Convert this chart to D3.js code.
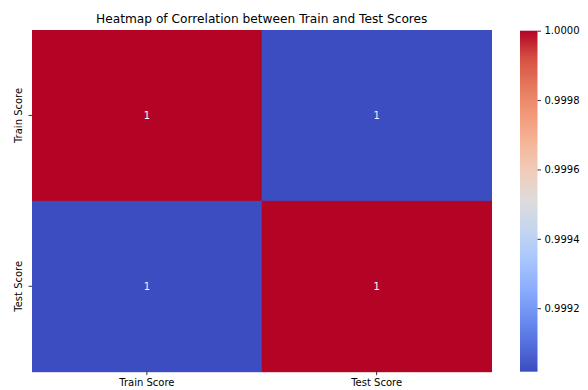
<!DOCTYPE html>
<html><head><meta charset="utf-8">
<script src="https://cdn.jsdelivr.net/npm/d3@7"></script>
<style>body{margin:0;background:#fff}svg{display:block}text{font-family:"DejaVu Sans",sans-serif}</style>
</head><body><svg id="c" width="588" height="390"></svg>
<script>
const rowLabels = ["Train Score", "Test Score"];
const colLabels = ["Train Score", "Test Score"];
const values = [[1.0, 0.99902],[0.99902, 1.0]];
const annotations = [["1","1"],["1","1"]];
const cbarTicks = [0.9992, 0.9994, 0.9996, 0.9998, 1.0];
const cbarDomain = [0.999017, 1.0];
const title = "Heatmap of Correlation between Train and Test Scores";
const coolwarm = ["#3b4cc0","#5470de","#6f92f3","#8db0fe","#aac7fd","#c5d5ef","#dddcdc","#f0cdbb","#f5b79b","#f39a7b","#e67a5e","#d65244","#b40426"];

const svg = d3.select("#c");
const L=32, R=491.5, T=30, B=371.7;
const x = d3.scaleBand().domain(colLabels).range([L,R]);
const y = d3.scaleBand().domain(rowLabels).range([T,B]);
const interp = d3.piecewise(d3.interpolateRgb, coolwarm);
const color = v => interp(Math.max(0,Math.min(1,(v-cbarDomain[0])/(cbarDomain[1]-cbarDomain[0]))));

const cells=[];
rowLabels.forEach((r,i)=>colLabels.forEach((c,j)=>cells.push({r,c,v:values[i][j],a:annotations[i][j]})));
svg.selectAll("rect.cell").data(cells).join("rect").attr("class","cell")
  .attr("x",d=>x(d.c)).attr("y",d=>y(d.r)).attr("width",x.bandwidth()+0.5).attr("height",y.bandwidth()+0.5)
  .attr("fill",d=>color(d.v));
svg.selectAll("text.ann").data(cells).join("text").attr("class","ann")
  .attr("x",d=>x(d.c)+x.bandwidth()/2).attr("y",d=>y(d.r)+y.bandwidth()/2).attr("dy","0.35em")
  .attr("text-anchor","middle").attr("font-size",10).attr("fill",d=>d.v>0.9995?"#ffffff":"#f2f2f2").text(d=>d.a);

const xa = svg.append("g").attr("transform",`translate(0,${B})`).call(d3.axisBottom(x).tickSize(3.5).tickPadding(3.5));
const ya = svg.append("g").attr("transform",`translate(${L},0)`).call(d3.axisLeft(y).tickSize(3.5).tickPadding(3.5));
[xa,ya].forEach(a=>{a.select(".domain").remove();a.selectAll("text").attr("font-size",10).attr("fill","#000").attr("font-family","DejaVu Sans");a.selectAll("line").attr("stroke","#000").attr("stroke-width",0.8);});
ya.selectAll(".tick text").attr("transform","rotate(-90)").attr("text-anchor","middle").attr("x",0).attr("y",-10.5).attr("dy","0");

// colorbar
const cx0=520, cw=17.5;
const cy = d3.scaleLinear().domain(cbarDomain).range([B,T+0.7]);
const defs = svg.append("defs");
const g = defs.append("linearGradient").attr("id","cg").attr("x1",0).attr("y1",1).attr("x2",0).attr("y2",0);
g.selectAll("stop").data(coolwarm).join("stop").attr("offset",(d,i)=>i/(coolwarm.length-1)).attr("stop-color",d=>d);
svg.append("rect").attr("x",cx0).attr("y",cy(cbarDomain[1])).attr("width",cw).attr("height",cy(cbarDomain[0])-cy(cbarDomain[1])).attr("fill","url(#cg)");
const ca = svg.append("g").attr("transform",`translate(${cx0+cw},0)`).call(d3.axisRight(cy).tickValues(cbarTicks).tickFormat(d3.format(".4f")).tickSize(3.5).tickPadding(3.5));
ca.select(".domain").remove();
ca.selectAll("text").attr("font-size",10).attr("fill","#000").attr("font-family","DejaVu Sans");
ca.selectAll("line").attr("stroke","#000").attr("stroke-width",0.8);

svg.append("text").attr("x",(L+R)/2).attr("y",23).attr("text-anchor","middle").attr("font-size",12.2).attr("fill","#000").text(title);
</script></body></html>
